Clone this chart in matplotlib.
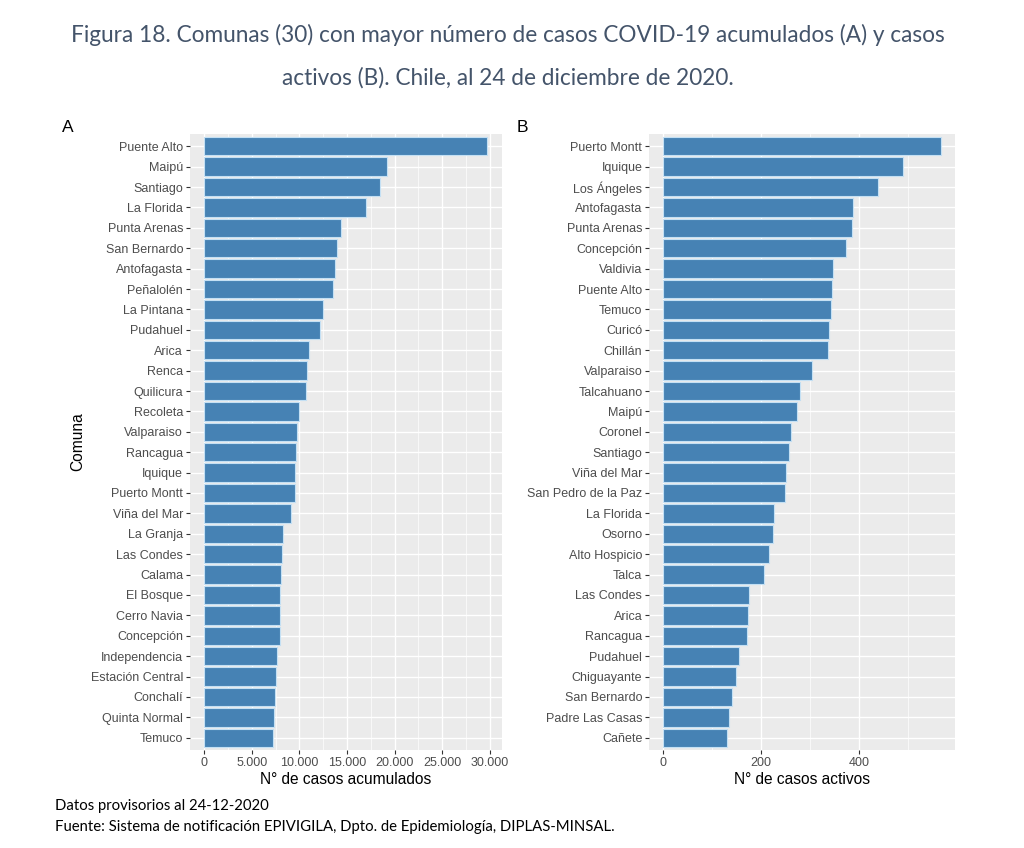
import matplotlib.pyplot as plt
from matplotlib.ticker import FuncFormatter, MultipleLocator

comunas_a = ["Puente Alto", "Maipú", "Santiago", "La Florida", "Punta Arenas", "San Bernardo",
             "Antofagasta", "Peñalolén", "La Pintana", "Pudahuel", "Arica", "Renca", "Quilicura",
             "Recoleta", "Valparaiso", "Rancagua", "Iquique", "Puerto Montt", "Viña del Mar",
             "La Granja", "Las Condes", "Calama", "El Bosque", "Cerro Navia", "Concepción",
             "Independencia", "Estación Central", "Conchalí", "Quinta Normal", "Temuco"]
acumulados = [29730, 19200, 18440, 17030, 14400, 13950, 13740, 13560, 12440, 12130, 11040,
              10830, 10730, 9920, 9710, 9620, 9580, 9570, 9150, 8270, 8200, 8060, 7990, 7990,
              7960, 7640, 7570, 7470, 7360, 7220]

comunas_b = ["Puerto Montt", "Iquique", "Los Ángeles", "Antofagasta", "Punta Arenas", "Concepción",
             "Valdivia", "Puente Alto", "Temuco", "Curicó", "Chillán", "Valparaiso", "Talcahuano",
             "Maipú", "Coronel", "Santiago", "Viña del Mar", "San Pedro de la Paz", "La Florida",
             "Osorno", "Alto Hospicio", "Talca", "Las Condes", "Arica", "Rancagua", "Pudahuel",
             "Chiguayante", "San Bernardo", "Padre Las Casas", "Cañete"]
activos = [567, 489, 439, 388, 386, 372, 346, 345, 342, 338, 337, 304, 279, 272, 261, 257,
           251, 249, 226, 224, 216, 205, 175, 174, 171, 155, 149, 140, 135, 131]

fill = "#4682B4"
edge = "#c4e0f4"
panel_bg = "#EBEBEB"
tick_col = "#4D4D4D"
arial = ["Liberation Sans", "DejaVu Sans"]
calibri = ["Lato", "DejaVu Sans"]

fig = plt.figure(figsize=(10.24, 8.48), dpi=100)
axA = fig.add_axes([190 / 1024, 98 / 848, 311.5 / 1024, 616 / 848])
axB = fig.add_axes([649.3 / 1024, 98 / 848, 305.7 / 1024, 616 / 848])


def style(ax, names, vals, xlabel):
    n = len(names)
    ys = list(range(n))
    ax.set_facecolor(panel_bg)
    ax.barh(ys, vals, height=0.9, color=fill, edgecolor=edge, linewidth=0.8, zorder=3)
    ax.set_ylim(n - 0.4, -0.6)
    top = max(vals)
    ax.set_xlim(-0.05 * top, 1.05 * top)
    ax.set_yticks(ys)
    ax.set_yticklabels(names, fontfamily=arial, fontsize=9, color=tick_col)
    for s in ax.spines.values():
        s.set_visible(False)
    ax.grid(which="major", color="white", linewidth=1.0, zorder=1)
    ax.grid(which="minor", axis="x", color="white", linewidth=0.5, zorder=1)
    ax.tick_params(axis="both", which="major", length=3, width=0.8, color="#333333",
                   labelcolor=tick_col, labelsize=9, pad=2)
    ax.tick_params(axis="both", which="minor", length=0)
    ax.set_xlabel(xlabel, fontfamily=arial, fontsize=11.2, color="black", labelpad=2)


style(axA, comunas_a, acumulados, "N° de casos acumulados")
axA.xaxis.set_major_locator(MultipleLocator(5000))
axA.xaxis.set_minor_locator(MultipleLocator(2500))
axA.xaxis.set_major_formatter(FuncFormatter(lambda v, p: f"{int(v):,}".replace(",", ".")))
for lbl in axA.get_xticklabels():
    lbl.set_fontfamily(arial)
axA.set_ylabel("Comuna", fontfamily=arial, fontsize=11.2, color="black", labelpad=4)

style(axB, comunas_b, activos, "N° de casos activos")
axB.xaxis.set_major_locator(MultipleLocator(200))
axB.xaxis.set_minor_locator(MultipleLocator(100))
for lbl in axB.get_xticklabels():
    lbl.set_fontfamily(arial)

fig.text(68 / 1024, 1 - 127 / 848, "A", fontfamily=arial, fontsize=12.5, ha="center", va="center")
fig.text(522 / 1024, 1 - 127 / 848, "B", fontfamily=arial, fontsize=12.5, ha="center", va="center")

title_col = "#44546A"
fig.text(508 / 1024, 1 - 35 / 848,
         "Figura 18. Comunas (30) con mayor número de casos COVID-19 acumulados (A) y casos",
         fontfamily=calibri, fontsize=16.3, color=title_col, ha="center", va="center")
fig.text(508 / 1024, 1 - 78 / 848,
         "activos (B). Chile, al 24 de diciembre de 2020.",
         fontfamily=calibri, fontsize=16.3, color=title_col, ha="center", va="center")

fig.text(55 / 1024, 1 - 806 / 848, "Datos provisorios al 24-12-2020",
         fontfamily=calibri, fontsize=10.7, color="black", ha="left", va="center")
fig.text(55 / 1024, 1 - 827 / 848,
         "Fuente: Sistema de notificación EPIVIGILA, Dpto. de Epidemiología, DIPLAS-MINSAL.",
         fontfamily=calibri, fontsize=10.7, color="black", ha="left", va="center")

fig.savefig("out.png", dpi=100)
